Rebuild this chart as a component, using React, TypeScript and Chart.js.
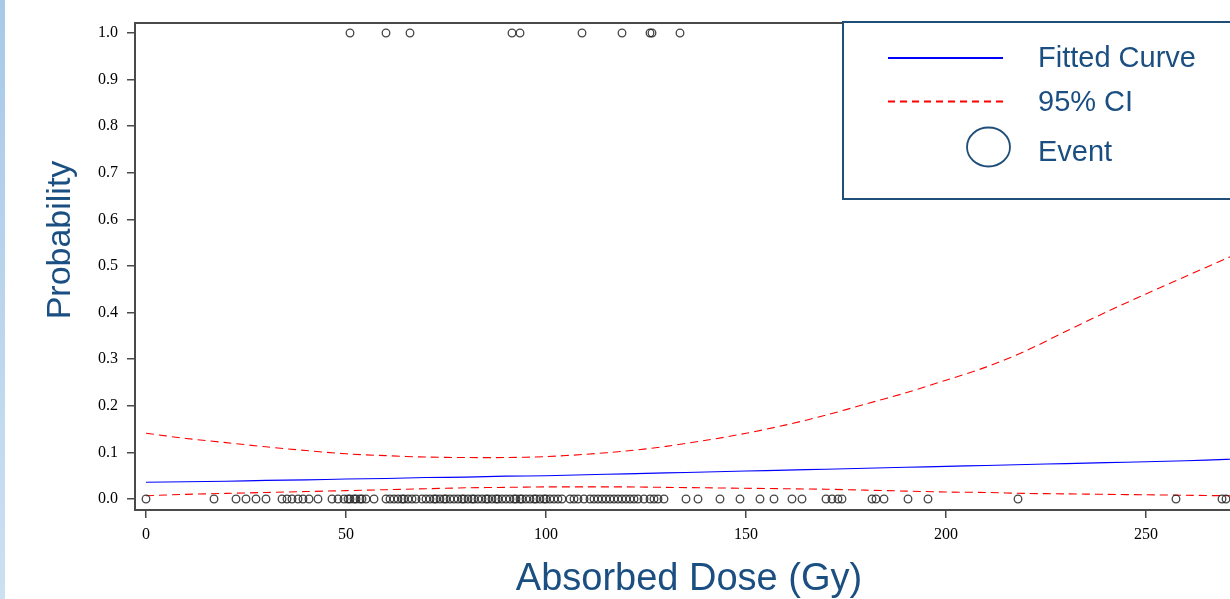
import React, { useEffect, useRef } from "react";
import { Chart, registerables } from "chart.js";

Chart.register(...registerables);

// ---- data ----
const CURVE_DOSE = [0, 10, 20, 30, 40, 50, 60, 70, 80, 90, 100, 110, 120, 130, 140, 150, 160, 170, 180, 190, 200, 210, 220, 230, 240, 250, 260, 270, 280];
const FITTED = [0.036, 0.037, 0.038, 0.040, 0.041, 0.043, 0.044, 0.046, 0.047, 0.049, 0.050, 0.052, 0.054, 0.056, 0.058, 0.060, 0.062, 0.064, 0.066, 0.068, 0.070, 0.072, 0.074, 0.076, 0.078, 0.080, 0.082, 0.085, 0.087];
const CI_UPPER = [0.141, 0.130, 0.121, 0.112, 0.104, 0.097, 0.093, 0.090, 0.089, 0.089, 0.091, 0.096, 0.103, 0.113, 0.126, 0.141, 0.159, 0.180, 0.204, 0.228, 0.255, 0.283, 0.318, 0.360, 0.401, 0.440, 0.478, 0.516, 0.553];
const CI_LOWER = [0.007, 0.010, 0.012, 0.014, 0.016, 0.018, 0.020, 0.022, 0.024, 0.025, 0.026, 0.026, 0.026, 0.025, 0.024, 0.023, 0.022, 0.021, 0.019, 0.017, 0.015, 0.014, 0.012, 0.011, 0.010, 0.009, 0.008, 0.007, 0.006];

const EVENT_DOSE = [51, 60, 66, 91.5, 93.5, 109, 119, 126, 126.5, 133.5];
const NONEVENT_DOSE = [
  0, 17, 22.5, 25, 27.5, 30, 34, 35.25, 36.5, 38, 39.25, 40.75, 43,
  46.5, 48, 49.5, 50.5, 51, 52, 52.5, 53.5, 54, 55, 57, 60, 61, 62, 63, 64, 64.5, 65.5, 66.5, 67.5,
  69, 70, 71, 72, 72.5, 73.5, 74.5, 75, 76, 77, 78, 79, 79.5, 80.5, 81.5, 82, 83, 84, 85, 85.5,
  86.5, 87.5, 88, 89, 90, 91, 92, 92.5, 93.5, 94, 95, 96, 97, 97.5, 98.5, 99.5, 100, 101, 102, 103, 104,
  106, 107, 108, 109.5, 111, 112, 113, 114, 115, 116, 117, 118, 119, 120, 121, 122, 123, 124.5, 126, 127,
  128, 129.5, 135, 138, 143.5, 148.5, 153.5, 157, 161.5, 164, 170, 171.5, 173, 174, 181.5, 182.5, 184.5,
  190.5, 195.5, 218, 257.5, 269, 270,
];

const X_TICKS = [0, 50, 100, 150, 200, 250];
const Y_TICKS = [0, 0.1, 0.2, 0.3, 0.4, 0.5, 0.6, 0.7, 0.8, 0.9, 1.0];

const X_TITLE = "Absorbed Dose (Gy)";
const Y_TITLE = "Probability";
const LEGEND_LABELS = ["Fitted Curve", "95% CI", "Event"];

// ---- styles ----
const AXIS_COLOR = "#4a4a4a";
const TITLE_COLOR = "#1b4f82";
const SANS = '"Liberation Sans", Arial, sans-serif';
const SERIF = '"Liberation Serif", "Times New Roman", serif';

const decorPlugin = {
  id: "decor",
  afterDraw(chart: any) {
    const { ctx, chartArea: a } = chart;
    ctx.save();
    // top border of the plot box
    ctx.strokeStyle = AXIS_COLOR;
    ctx.lineWidth = 2;
    ctx.beginPath();
    ctx.moveTo(a.left - 1, a.top);
    ctx.lineTo(a.right + 20, a.top);
    ctx.stroke();

    // axis titles
    ctx.fillStyle = TITLE_COLOR;
    ctx.font = `38px ${SANS}`;
    ctx.textAlign = "center";
    ctx.textBaseline = "alphabetic";
    ctx.fillText(X_TITLE, 689, 590);

    ctx.save();
    ctx.translate(70, 240);
    ctx.rotate(-Math.PI / 2);
    ctx.font = `34px ${SANS}`;
    ctx.fillText(Y_TITLE, 0, 0);
    ctx.restore();

    // legend box
    const lx = 843, ly = 22, lw = 420, lh = 177;
    ctx.fillStyle = "#ffffff";
    ctx.fillRect(lx, ly, lw, lh);
    ctx.strokeStyle = "#1f4e79";
    ctx.lineWidth = 2;
    ctx.strokeRect(lx, ly, lw, lh);

    // legend symbols
    ctx.lineWidth = 2;
    ctx.strokeStyle = "#0000ff";
    ctx.beginPath();
    ctx.moveTo(888, 58);
    ctx.lineTo(1003, 58);
    ctx.stroke();

    ctx.strokeStyle = "#ff0000";
    ctx.setLineDash([7, 5]);
    ctx.beginPath();
    ctx.moveTo(888, 101.5);
    ctx.lineTo(1003, 101.5);
    ctx.stroke();
    ctx.setLineDash([]);

    ctx.strokeStyle = "#1f4e79";
    ctx.lineWidth = 1.8;
    ctx.beginPath();
    ctx.ellipse(988.5, 147, 21.5, 19.5, 0, 0, Math.PI * 2);
    ctx.stroke();

    // legend labels
    ctx.fillStyle = TITLE_COLOR;
    ctx.font = `29px ${SANS}`;
    ctx.textAlign = "left";
    ctx.fillText(LEGEND_LABELS[0], 1038, 67);
    ctx.fillText(LEGEND_LABELS[1], 1038, 111);
    ctx.fillText(LEGEND_LABELS[2], 1038, 161);
    ctx.restore();
  },
};

export default function App() {
  const canvasRef = useRef<HTMLCanvasElement | null>(null);

  useEffect(() => {
    const canvas = canvasRef.current;
    if (!canvas) return;

    const curve = (vals: number[]) => CURVE_DOSE.map((x, i) => ({ x, y: vals[i] }));
    const pointStyle = {
      showLine: false,
      pointRadius: 3.8,
      pointBorderWidth: 1.3,
      pointBorderColor: "rgba(35,35,35,0.85)",
      pointBackgroundColor: "rgba(0,0,0,0)",
      pointHoverRadius: 3.8,
    };

    const chart = new Chart(canvas, {
      type: "scatter",
      data: {
        datasets: [
          {
            label: "Event",
            data: [
              ...EVENT_DOSE.map((x) => ({ x, y: 1 })),
              ...NONEVENT_DOSE.map((x) => ({ x, y: 0 })),
            ],
            ...pointStyle,
          } as any,
          {
            label: "Fitted Curve",
            data: curve(FITTED),
            showLine: true,
            borderColor: "#0000ff",
            borderWidth: 1.1,
            pointRadius: 0,
            tension: 0.3,
          },
          {
            label: "95% CI upper",
            data: curve(CI_UPPER),
            showLine: true,
            borderColor: "#ff0000",
            borderWidth: 1.1,
            borderDash: [8, 5],
            pointRadius: 0,
            tension: 0.3,
          },
          {
            label: "95% CI lower",
            data: curve(CI_LOWER),
            showLine: true,
            borderColor: "#ff0000",
            borderWidth: 1.1,
            borderDash: [8, 5],
            pointRadius: 0,
            tension: 0.3,
          },
        ],
      },
      options: {
        animation: false,
        responsive: false,
        maintainAspectRatio: false,
        layout: { padding: { top: 23, right: 10, left: 0, bottom: 0 } },
        plugins: {
          legend: { display: false },
          tooltip: { enabled: false },
          title: { display: false },
        },
        scales: {
          x: {
            type: "linear",
            min: -2.75,
            max: 271,
            afterBuildTicks: (scale: any) => {
              scale.ticks = X_TICKS.map((v) => ({ value: v }));
            },
            afterFit: (scale: any) => {
              scale.height = 89;
            },
            grid: {
              drawOnChartArea: false,
              drawTicks: true,
              tickLength: 8,
              color: AXIS_COLOR,
              lineWidth: 1.5,
            },
            border: { display: true, color: AXIS_COLOR, width: 2 },
            ticks: {
              color: "#000",
              font: { family: SERIF, size: 16 },
              padding: 7,
              maxRotation: 0,
              callback: (v: any) => String(v),
            },
          },
          y: {
            type: "linear",
            min: -0.0236,
            max: 1.0215,
            afterBuildTicks: (scale: any) => {
              scale.ticks = Y_TICKS.map((v) => ({ value: v }));
            },
            afterFit: (scale: any) => {
              scale.width = 135;
            },
            grid: {
              drawOnChartArea: false,
              drawTicks: true,
              tickLength: 8,
              color: AXIS_COLOR,
              lineWidth: 1.5,
            },
            border: { display: true, color: AXIS_COLOR, width: 2 },
            ticks: {
              color: "#000",
              font: { family: SERIF, size: 16 },
              padding: 9,
              callback: (v: any) => Number(v).toFixed(1),
            },
          },
        },
      },
      plugins: [decorPlugin],
    });

    return () => chart.destroy();
  }, []);

  return (
    <div
      style={{
        position: "fixed",
        left: 0,
        top: 0,
        width: 1230,
        height: 599,
        overflow: "hidden",
        background: "#ffffff",
      }}
    >
      <canvas ref={canvasRef} width={1240} height={599} style={{ position: "absolute", left: 0, top: 0 }} />
      <div
        style={{
          position: "absolute",
          left: 0,
          top: 0,
          width: 5,
          height: 599,
          background: "linear-gradient(#a8c9e8, #cde0f2)",
        }}
      />
    </div>
  );
}
